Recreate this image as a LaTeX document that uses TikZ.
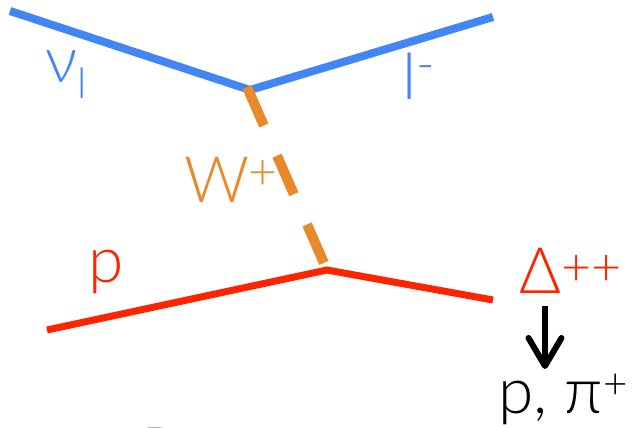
\documentclass[tikz,border=0pt]{standalone}
\usepackage{fontspec}
\IfFontExistsTF{Lato Light}{\setmainfont{Lato Light}}{\setmainfont{Lato}}
\usetikzlibrary{arrows.meta}
\definecolor{lblue}{HTML}{4285F4}
\definecolor{lred}{HTML}{FF2400}
\definecolor{lorange}{HTML}{E88A2B}
\newcommand\upsc[3]{\raisebox{#1}{\fontsize{#2}{#2}\selectfont #3}}
\begin{document}
\begin{tikzpicture}[x=1pt,y=-1pt,
  lbl/.style={inner sep=0pt, anchor=base west, font=\fontsize{64}{70}\selectfont},
  lepton/.style={draw=lblue, line width=8pt, line join=miter},
  hadron/.style={draw=lred, line width=7pt, line join=miter},
  boson/.style={draw=lorange, line width=10pt, dash pattern=on 42pt off 33pt},
  decay/.style={draw=black, line width=6pt, -{Straight Barb[length=28pt,width=33pt,round]}}]
\useasboundingbox (0,0) rectangle (641,428);
% vertices and line ends
\coordinate (vtop) at (250,90);
\coordinate (vbot) at (327,270);
\coordinate (nuend) at (10,11);
\coordinate (lend) at (493,17);
\coordinate (pend) at (47,330);
\coordinate (dend) at (493,300);
\coordinate (wstart) at (247,87);
\coordinate (arrtop) at (545,306);
\coordinate (arrtip) at (545,369);
% lines
\draw[lepton] (nuend) -- (vtop) -- (lend);
\draw[hadron] (pend) -- (vbot) -- (dend);
\draw[boson] (wstart) -- (vbot);
\draw[decay] (arrtop) -- (arrtip);
% labels
\node[lbl, text=lblue] (nu) at (45,83) {ν\raisebox{-16pt}{\fontsize{42}{44}\selectfont l}};
\node[lbl, text=lblue] (lm) at (402,100) {l\upsc{18pt}{50}{-}};
\node[lbl, text=lorange] (W) at (184,202) {W\kern-1pt\upsc{13pt}{50}{+}};
\node[lbl, text=lred] (p) at (88,282) {p};
\node[lbl, text=lred] (Delta) at (519,293) {Δ\upsc{8pt}{52}{++}};
\node[lbl, text=black] (ppi) at (498,413) {p, π\upsc{15pt}{42}{+}};
\node[lbl, text=black] (frag) at (141,473) {P};
\end{tikzpicture}
\end{document}
